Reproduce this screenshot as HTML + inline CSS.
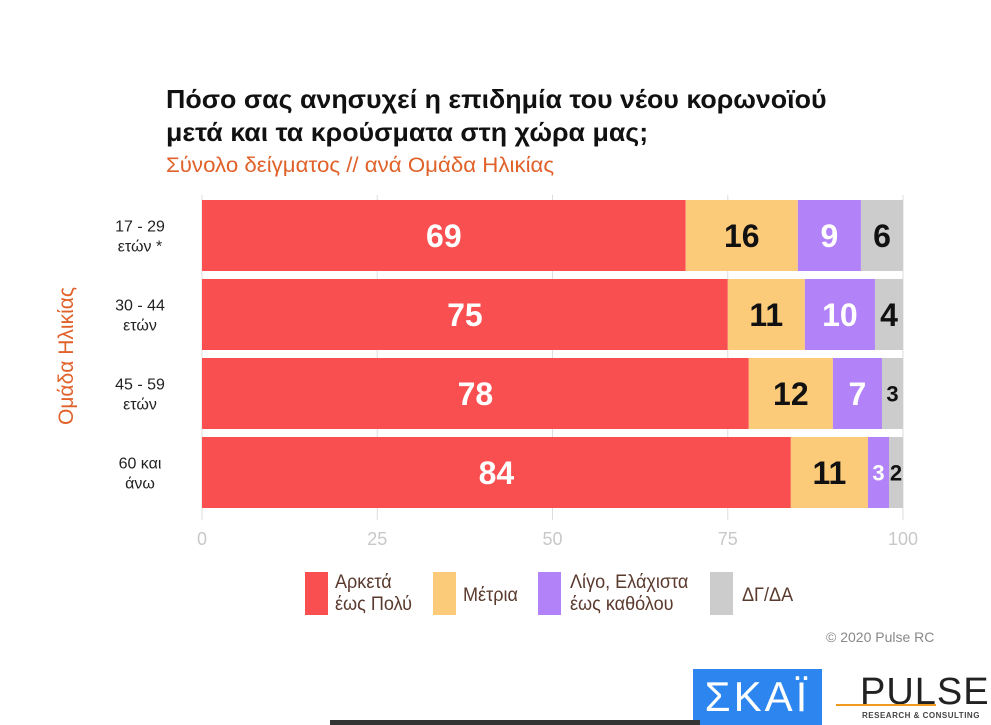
<!DOCTYPE html>
<html><head><meta charset="utf-8"><style>
body{margin:0;width:991px;height:725px;background:#fff;overflow:hidden;font-family:"Liberation Sans",sans-serif;position:relative}
.abs{position:absolute;white-space:nowrap}
.lg{font-size:19px;line-height:22px;color:#5a3a2e;transform:scaleX(0.95);transform-origin:left top}
</style></head><body>
<div class="abs" style="left:166px;top:83px;font-size:26px;font-weight:bold;line-height:33px;color:#111;transform:scaleX(1.03);transform-origin:left top">Πόσο σας ανησυχεί η επιδημία του νέου κορωνοϊού<br>μετά και τα κρούσματα στη χώρα μας;</div>
<div class="abs" style="left:166px;top:154px;font-size:21px;color:#e0622a;transform:scaleX(1.06);transform-origin:left top">Σύνολο δείγματος // ανά Ομάδα Ηλικίας</div>
<svg class="abs" style="left:0;top:0" width="991" height="725" id="chart">
<text x="73" y="356" transform="rotate(-90 73 356)" text-anchor="middle" font-size="21" fill="#e0622a" font-family="Liberation Sans, sans-serif">Ομάδα Ηλικίας</text>
</svg>
<div class="abs" style="left:0;top:0">
<div class="abs" style="left:305px;top:572px;width:23px;height:43px;background:#f94f50"></div>
<div class="abs lg" style="left:335px;top:572px">Αρκετά<br>έως Πολύ</div>
<div class="abs" style="left:433px;top:572px;width:23px;height:43px;background:#fccb7a"></div>
<div class="abs lg" style="left:463px;top:585px">Μέτρια</div>
<div class="abs" style="left:538px;top:572px;width:23px;height:43px;background:#b182f8"></div>
<div class="abs lg" style="left:570px;top:572px">Λίγο, Ελάχιστα<br>έως καθόλου</div>
<div class="abs" style="left:710px;top:572px;width:23px;height:43px;background:#cccccc"></div>
<div class="abs lg" style="left:742px;top:585px">ΔΓ/ΔΑ</div>
</div>
<div class="abs" style="left:826px;top:629px;font-size:14px;color:#888">© 2020 Pulse RC</div>
<div class="abs" style="left:693px;top:669px;width:129px;height:56px;background:#2d86f0;color:#fff;font-size:42px;text-align:center;line-height:56px;letter-spacing:3px">ΣΚΑΪ</div>
<div class="abs" style="left:860px;top:673px;font-size:38px;color:#222;letter-spacing:1px;line-height:38px">PULSE</div>
<div class="abs" style="left:862px;top:711px;font-size:8px;color:#444;letter-spacing:0.5px;font-weight:bold">RESEARCH &amp; CONSULTING</div>
<div class="abs" style="left:836px;top:704px;width:100px;height:2px;background:#f29a1d"></div>
<div class="abs" style="left:330px;top:720px;width:370px;height:5px;background:#333"></div>
<script>
const categories=["17 - 29|ετών *","30 - 44|ετών","45 - 59|ετών","60 και|άνω"];
const seriesVery=[69,75,78,84];
const seriesModerate=[16,11,12,11];
const seriesLittle=[9,10,7,3];
const seriesDK=[6,4,3,2];
const ticks=[0,25,50,75,100];
const colors=["#f94f50","#fccb7a","#b182f8","#cccccc"];
const textColors=["#fff","#111","#fff","#111"];
const svg=document.getElementById('chart');
const NS="http://www.w3.org/2000/svg";
const x0=202,x1=903,yTop=200,step=79,bh=71;
const xs=v=>x0+(x1-x0)*v/100;
const ys=i=>yTop+i*step;
function mk(t,a){const e=document.createElementNS(NS,t);for(const k in a)e.setAttribute(k,a[k]);svg.appendChild(e);return e;}
ticks.forEach(t=>{
  const l=mk('line',{x1:xs(t),x2:xs(t),y1:195,y2:520,stroke:'#ddd','stroke-width':1});
  
  
  const tx=mk('text',{x:xs(t),y:545,'text-anchor':'middle','font-size':18,fill:'#c8c8c8','font-family':'Liberation Sans, sans-serif'});
  tx.textContent=t;
  
  
});
const series=[seriesVery,seriesModerate,seriesLittle,seriesDK];
categories.forEach((c,i)=>{
  const parts=c.split('|');
  parts.forEach((p,j)=>{
    const t=mk('text',{x:140,y:ys(i)+bh/2-4+j*20,'text-anchor':'middle','font-size':16,fill:'#222','font-family':'Liberation Sans, sans-serif'});
    t.textContent=p;
    
    
  });
  let acc=0;
  series.forEach((s,k)=>{
    const v=s[i];
    const r=mk('rect',{x:xs(acc),y:ys(i),width:xs(acc+v)-xs(acc),height:bh,fill:colors[k]});
    
    
    const fs=v<=3?22:32;
    const t=mk('text',{x:(xs(acc)+xs(acc+v))/2,y:ys(i)+bh/2+fs*0.36,'text-anchor':'middle','font-size':fs,'font-weight':'bold',fill:textColors[k],'font-family':'Liberation Sans, sans-serif'});
    t.textContent=v;
    
    
    acc+=v;
  });
});
</script>
</body></html>
